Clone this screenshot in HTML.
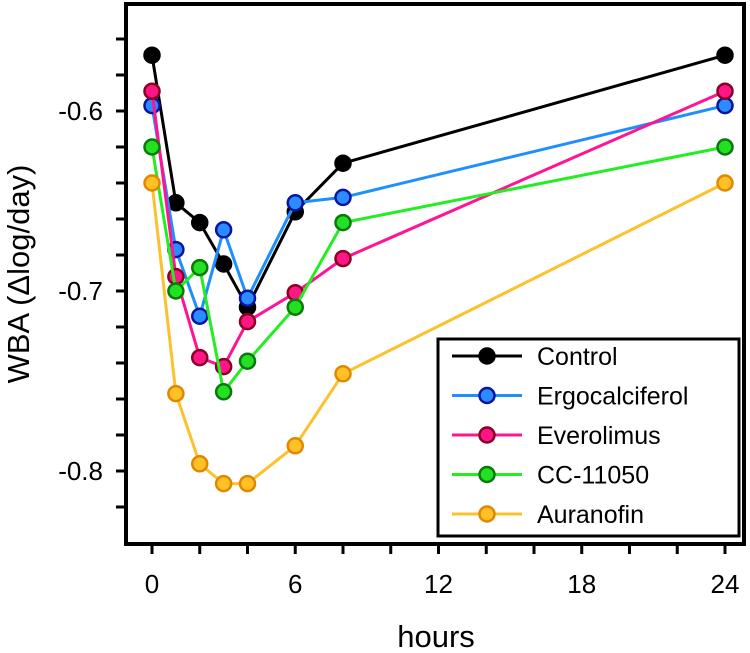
<!DOCTYPE html>
<html><head><meta charset="utf-8"><style>
html,body{margin:0;padding:0;background:#fff;}
svg{display:block;font-family:"Liberation Sans",Arial,sans-serif;}
</style></head><body>
<svg id="chart" width="750" height="653" viewBox="0 0 750 653"></svg>
<script>
const hours = [0, 1, 2, 3, 4, 6, 8, 24];
const seriesNames = ["Control", "Ergocalciferol", "Everolimus", "CC-11050", "Auranofin"];
const controlValues = [-0.569, -0.651, -0.662, -0.685, -0.709, -0.656, -0.629, -0.569];
const ergoValues = [-0.597, -0.677, -0.714, -0.666, -0.704, -0.651, -0.648, -0.597];
const everoValues = [-0.589, -0.692, -0.737, -0.742, -0.717, -0.701, -0.682, -0.589];
const ccValues = [-0.620, -0.700, -0.687, -0.756, -0.739, -0.709, -0.662, -0.620];
const auraValues = [-0.640, -0.757, -0.796, -0.807, -0.807, -0.786, -0.746, -0.640];
const xTickLabels = [0, 6, 12, 18, 24];
const yTickLabels = [-0.6, -0.7, -0.8];

const NS = "http://www.w3.org/2000/svg";
const svg = document.getElementById("chart");
const L = 126, T = 4, R = 744, B = 544;
function xs(t){ return 152 + (t - 0) * (725 - 152) / 24; }
function ys(v){ return 291 + (-0.7 - v) * 1800; }
function mk(tag, attrs, parent){
  const e = document.createElementNS(NS, tag);
  for (const k in attrs) e.setAttribute(k, attrs[k]);
  (parent || svg).appendChild(e);
  return e;
}
const styles = [
  {line:"#000000", fill:"#000000", stroke:"#000000"},
  {line:"#1e8fff", fill:"#2b8cff", stroke:"#0b14a0"},
  {line:"#ff1493", fill:"#ff1585", stroke:"#8a0025"},
  {line:"#22ee22", fill:"#22e022", stroke:"#0b780b"},
  {line:"#fcc12d", fill:"#ffc125", stroke:"#e08800"}
];
const allValues = [controlValues, ergoValues, everoValues, ccValues, auraValues];

const frame = mk("rect", {x:L, y:T, width:R-L, height:B-T, fill:"none", stroke:"#000", "stroke-width":4});



for (let i = 0; i <= 13; i++) {
  const v = -0.56 - i * 0.02;
  const y = ys(v);
  const tk = mk("line", {x1:L-10, x2:L, y1:y, y2:y, stroke:"#000", "stroke-width":3});
  
  
}
yTickLabels.forEach(v => {
  const t = mk("text", {x:103, y:ys(v)+9, "text-anchor":"end", "font-size":26, fill:"#000"});
  t.textContent = v.toFixed(1);
  
  
});
for (let h = 0; h <= 24; h += 2) {
  const x = xs(h);
  const tk = mk("line", {x1:x, x2:x, y1:B, y2:B+10, stroke:"#000", "stroke-width":3});
  
  
}
xTickLabels.forEach(h => {
  const t = mk("text", {x:xs(h), y:593, "text-anchor":"middle", "font-size":26, fill:"#000"});
  t.textContent = h;
  
  
});
const xt = mk("text", {x:436, y:647, "text-anchor":"middle", "font-size":31, fill:"#000"});
xt.textContent = "hours";


const yt = mk("text", {x:0, y:0, "text-anchor":"middle", "font-size":31, fill:"#000", transform:"translate(29,274) rotate(-90)"});
yt.textContent = "WBA (\u0394log/day)";



allValues.forEach((vals, si) => {
  const st = styles[si];
  const g = mk("g", {});
  
  
  const pts = hours.map((h, i) => xs(h) + "," + ys(vals[i])).join(" ");
  const pl = mk("polyline", {points:pts, fill:"none", stroke:st.line, "stroke-width":3, "stroke-linejoin":"round"}, g);
  
  
  hours.forEach((h, i) => {
    const c = mk("circle", {cx:xs(h), cy:ys(vals[i]), r:7.5, fill:st.fill, stroke:st.stroke, "stroke-width":2.5}, g);
    
    
  });
});

const lg = mk("g", {});


const lb = mk("rect", {x:438, y:339, width:301, height:197, fill:"#fff", stroke:"#000", "stroke-width":3}, lg);


seriesNames.forEach((n, i) => {
  const st = styles[i];
  const y = 356 + i * 39.5;
  const e = mk("g", {}, lg);
  
  
  mk("line", {x1:452, x2:522, y1:y, y2:y, stroke:st.line, "stroke-width":3}, e);
  mk("circle", {cx:487, cy:y, r:7.5, fill:st.fill, stroke:st.stroke, "stroke-width":2.5}, e);
  const t = mk("text", {x:537, y:y+9, "font-size":25, fill:"#000"}, e);
  t.textContent = n;
});
</script>
</body></html>
